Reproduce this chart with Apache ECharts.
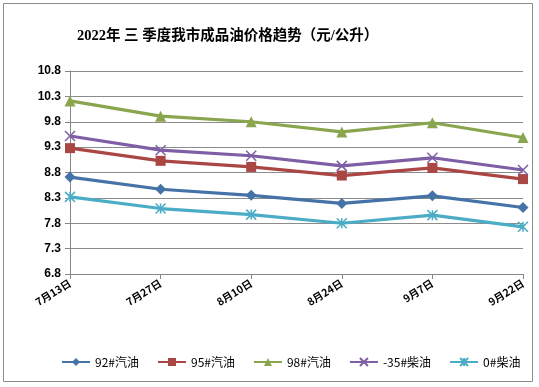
<!DOCTYPE html>
<html><head><meta charset="utf-8">
<script src="https://cdn.jsdelivr.net/npm/echarts@6/dist/echarts.min.js"></script>
<style>html,body{margin:0;padding:0;background:#fff}#c{width:539px;height:387px}</style>
</head><body><div id="c"></div>
<script>
var categories = ['7月13日','7月27日','8月10日','8月24日','9月7日','9月22日'];
var yTicks = [6.8, 7.3, 7.8, 8.3, 8.8, 9.3, 9.8, 10.3, 10.8];
var s92 = [8.71, 8.47, 8.35, 8.19, 8.34, 8.11];
var s95 = [9.28, 9.03, 8.91, 8.74, 8.89, 8.67];
var s98 = [10.21, 9.91, 9.80, 9.60, 9.78, 9.49];
var s35 = [9.52, 9.24, 9.13, 8.93, 9.09, 8.85];
var s0 = [8.32, 8.09, 7.97, 7.80, 7.96, 7.73];
var names = ['92#汽油','95#汽油','98#汽油','-35#柴油','0#柴油'];

var chart = echarts.init(document.getElementById('c'));
function ser(name, data, color, symbol, size, strokeOnly) {
  return {
    name: name, type: 'line', data: data, symbol: symbol, symbolSize: size,
    lineStyle: {color: color, width: 3.2},
    itemStyle: strokeOnly ? {color: color, borderColor: color, borderWidth: 1.5} : {color: color},
    emphasis: {disabled: true}, z: 3
  };
}
var xPath = 'path://M0,0L10,10M10,0L0,10';
var starPath = 'path://M0,0L10,10M10,0L0,10M5,0L5,10';
chart.setOption({
  animation: false,
  graphic: [{type: 'rect', shape: {x: 3.5, y: 3.5, width: 529, height: 378}, style: {fill: 'none', stroke: '#8c8c8c', lineWidth: 1}, silent: true}],
  title: {text: '2022年 三 季度我市成品油价格趋势（元/公升）', left: 72, top: 24,
    textStyle: {fontFamily: 'Liberation Serif, Noto Sans CJK SC', fontWeight: 'bold', fontSize: 14.5, color: '#000'}},
  grid: {left: 70, right: 16, top: 71, bottom: 113, containLabel: false},
  xAxis: {type: 'category', data: categories, boundaryGap: false,
    axisLine: {lineStyle: {color: '#868686', width: 1}},
    axisTick: {show: true, alignWithLabel: true, length: 5, lineStyle: {color: '#868686'}},
    axisLabel: {rotate: 32, fontSize: 10.5, fontWeight: 'bold', color: '#000', fontFamily: 'Noto Sans CJK SC', margin: 8, interval: 0},
    splitLine: {show: false}},
  yAxis: {type: 'value', min: 6.8, max: 10.8, interval: 0.5,
    axisLine: {show: true, lineStyle: {color: '#868686', width: 1}},
    axisTick: {show: true, length: 5, lineStyle: {color: '#868686'}},
    axisLabel: {fontSize: 12, fontWeight: 'bold', color: '#000', fontFamily: 'Liberation Sans', margin: 9,
      formatter: function(v){ return v.toFixed(1); }},
    splitLine: {lineStyle: {color: '#8c8c8c', width: 1}}},
  legend: {bottom: 14, left: 56, itemWidth: 28, itemHeight: 10, itemGap: 18,
    data: names,
    textStyle: {fontSize: 12, color: '#000', fontFamily: 'Noto Sans CJK SC'}},
  series: [
    ser(names[0], s92, '#4572A7', 'diamond', 11),
    ser(names[1], s95, '#AA4643', 'rect', 10),
    ser(names[2], s98, '#89A54E', 'triangle', 11),
    ser(names[3], s35, '#7E5FA6', xPath, 10, true),
    ser(names[4], s0, '#4BACC6', starPath, 10, true)
  ]
});
</script></body></html>
